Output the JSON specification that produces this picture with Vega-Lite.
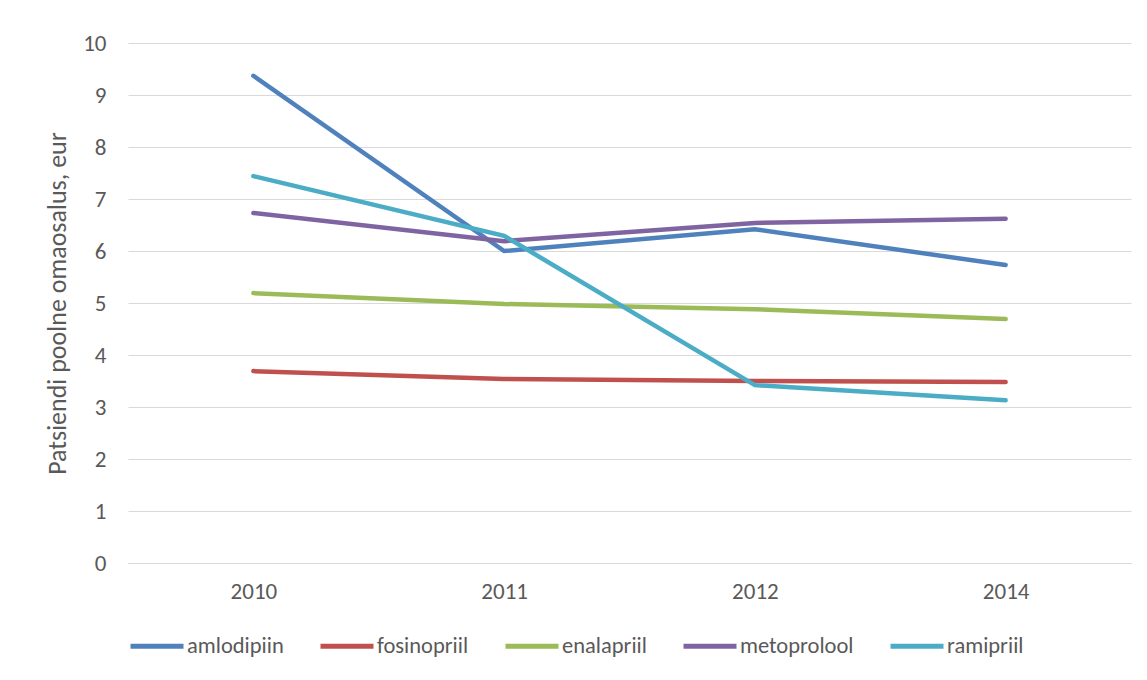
{
  "$schema": "https://vega.github.io/schema/vega-lite/v6.json",
  "width": 1003,
  "height": 520,
  "autosize": {"type": "none"},
  "padding": {"left": 128, "top": 43, "right": 16, "bottom": 117},
  "background": "white",
  "config": {
    "font": "Carlito, Lato, sans-serif",
    "view": {"stroke": null},
    "axis": {"labelColor": "#595959", "titleColor": "#595959", "labelFont": "Carlito, Lato, sans-serif", "titleFont": "Carlito, Lato, sans-serif"},
    "legend": {"labelColor": "#595959", "labelFont": "Carlito, Lato, sans-serif"}
  },
  "data": {
    "values": [
      {"aasta": "2010", "ravim": "amlodipiin", "v": 9.37},
      {"aasta": "2011", "ravim": "amlodipiin", "v": 6.0},
      {"aasta": "2012", "ravim": "amlodipiin", "v": 6.42},
      {"aasta": "2014", "ravim": "amlodipiin", "v": 5.73},
      {"aasta": "2010", "ravim": "fosinopriil", "v": 3.69},
      {"aasta": "2011", "ravim": "fosinopriil", "v": 3.54},
      {"aasta": "2012", "ravim": "fosinopriil", "v": 3.5},
      {"aasta": "2014", "ravim": "fosinopriil", "v": 3.48},
      {"aasta": "2010", "ravim": "enalapriil", "v": 5.19},
      {"aasta": "2011", "ravim": "enalapriil", "v": 4.98},
      {"aasta": "2012", "ravim": "enalapriil", "v": 4.88},
      {"aasta": "2014", "ravim": "enalapriil", "v": 4.69},
      {"aasta": "2010", "ravim": "metoprolool", "v": 6.73},
      {"aasta": "2011", "ravim": "metoprolool", "v": 6.19},
      {"aasta": "2012", "ravim": "metoprolool", "v": 6.54},
      {"aasta": "2014", "ravim": "metoprolool", "v": 6.62},
      {"aasta": "2010", "ravim": "ramipriil", "v": 7.44},
      {"aasta": "2011", "ravim": "ramipriil", "v": 6.29},
      {"aasta": "2012", "ravim": "ramipriil", "v": 3.42},
      {"aasta": "2014", "ravim": "ramipriil", "v": 3.13}
    ]
  },
  "mark": {"type": "line", "strokeWidth": 4.5, "strokeCap": "round"},
  "encoding": {
    "x": {
      "field": "aasta", "type": "ordinal",
      "scale": {"type": "point", "padding": 0.5},
      "axis": {"title": null, "labelAngle": 0, "labelFontSize": 23, "labelPadding": 17, "ticks": false, "domain": true, "domainColor": "#D9D9D9", "grid": false}
    },
    "y": {
      "field": "v", "type": "quantitative",
      "scale": {"domain": [0, 10], "nice": false},
      "axis": {"title": "Patsiendi poolne omaosalus, eur", "titleFontSize": 26, "titleFontWeight": "normal", "titlePadding": 12, "values": [0,1,2,3,4,5,6,7,8,9,10], "labelFontSize": 23, "labelPadding": 22, "ticks": false, "domain": false, "grid": true, "gridColor": "#D9D9D9", "gridWidth": 1}
    },
    "color": {
      "field": "ravim", "type": "nominal",
      "scale": {"domain": ["amlodipiin", "fosinopriil", "enalapriil", "metoprolool", "ramipriil"], "range": ["#4F81BD", "#C0504D", "#9BBB59", "#8064A2", "#4BACC6"]},
      "legend": {"title": null, "orient": "bottom", "direction": "horizontal", "columns": 5, "symbolType": "stroke", "symbolSize": 2809, "symbolStrokeWidth": 5, "labelFontSize": 22.5, "labelOffset": 1, "columnPadding": 26, "offset": 14}
    }
  }
}
